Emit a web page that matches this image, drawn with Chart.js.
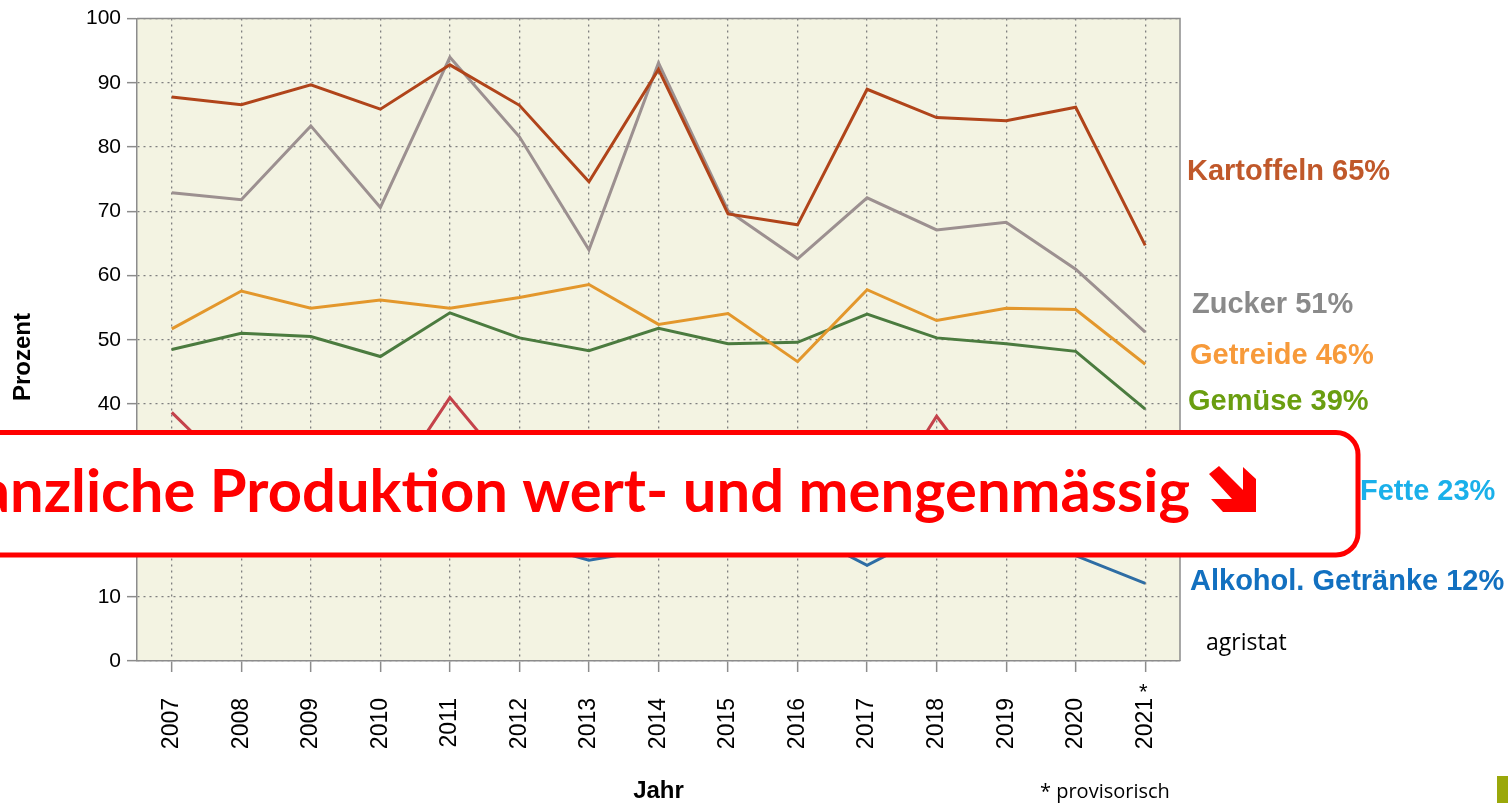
<!DOCTYPE html>
<html lang="de">
<head>
<meta charset="utf-8">
<title>Selbstversorgungsgrad</title>
<script src="https://cdn.jsdelivr.net/npm/chart.js@4.4.0/dist/chart.umd.min.js"></script>
<style>
  html, body { margin: 0; padding: 0; background: #fff; }
  #wrap { position: relative; width: 1510px; height: 803px; }
</style>
</head>
<body>
<div id="wrap"><canvas id="chart"></canvas></div>
<script>
// Selbstversorgungsgrad in Prozent, 2021 provisorisch
const years = ["2007", "2008", "2009", "2010", "2011", "2012", "2013", "2014",
  "2015", "2016", "2017", "2018", "2019", "2020", "2021"];

const kartoffeln = [87.8, 86.6, 89.7, 85.9, 92.8, 86.5, 74.6, 92.1, 69.6, 67.9, 89.0, 84.6, 84.1, 86.2, 64.7];
const zucker = [72.9, 71.8, 83.3, 70.6, 94.0, 81.6, 64.0, 93.1, 70.1, 62.6, 72.1, 67.1, 68.3, 61.0, 51.2];
const getreide = [51.7, 57.6, 54.9, 56.2, 54.9, 56.6, 58.6, 52.4, 54.1, 46.6, 57.8, 53.0, 54.9, 54.7, 46.2];
const gemuese = [48.5, 51.0, 50.5, 47.4, 54.2, 50.3, 48.3, 51.8, 49.4, 49.6, 54.0, 50.3, 49.4, 48.2, 39.2];
const obst = [38.7, 28.1, 30.0, 24.7, 41.0, 28.0, 25.0, 30.0, 27.0, 28.0, 21.0, 38.1, 23.7, 26.0, 29.0];
const fette = [25.0, 24.0, 25.0, 24.0, 25.0, 24.0, 24.0, 25.0, 24.0, 23.0, 24.0, 23.0, 24.0, 24.0, 23.0];
const alkohol = [19.0, 18.5, 18.0, 19.0, 18.5, 18.7, 15.7, 17.5, 19.0, 20.5, 14.9, 20.5, 18.5, 16.4, 12.1];

const endLabels = ["Kartoffeln 65%", "Zucker 51%", "Getreide 46%", "Gemüse 39%", "Fette 23%", "Alkohol. Getränke 12%"];
const banner = "Pflanzliche Produktion wert- und mengenmässig";

const sans = '"Liberation Sans", Arial, sans-serif';
const gray = "#8c8c8c";

const overlay = {
  id: "overlay",
  beforeDraw(chart) {
    const { ctx, chartArea: a } = chart;
    ctx.save();
    ctx.fillStyle = "#f3f3e2";
    ctx.fillRect(a.left, a.top, a.right - a.left, a.bottom - a.top);
    ctx.restore();
  },
  afterDraw(chart) {
    const { ctx, chartArea: a, scales } = chart;
    ctx.save();

    // frame top and right
    ctx.strokeStyle = gray;
    ctx.lineWidth = 1.5;
    ctx.beginPath();
    ctx.moveTo(a.left, a.top);
    ctx.lineTo(a.right, a.top);
    ctx.lineTo(a.right, a.bottom);
    ctx.stroke();

    // y axis title
    ctx.save();
    ctx.translate(23, 357);
    ctx.rotate(-Math.PI / 2);
    ctx.font = "bold 24px " + sans;
    ctx.fillStyle = "#000";
    ctx.textAlign = "center";
    ctx.textBaseline = "middle";
    ctx.fillText("Prozent", 0, 0);
    ctx.restore();

    // star for provisional year
    const xLast = scales.x.getPixelForValue(years.length - 1);
    ctx.font = "22px " + sans;
    ctx.fillStyle = "#000";
    ctx.textAlign = "center";
    ctx.textBaseline = "alphabetic";
    ctx.fillText("*", xLast - 2, 699);

    // end labels
    const colors = ["#c0582a", "#8a8a8a", "#f79a3a", "#6a9e10", "#1ab0ea", "#1270c0"];
    const pos = [[1187, 180], [1192, 313], [1190, 364], [1188, 410], [1360, 500], [1190, 590]];
    ctx.font = "bold 29px " + sans;
    ctx.textAlign = "left";
    endLabels.forEach((t, i) => {
      ctx.fillStyle = colors[i];
      ctx.fillText(t, pos[i][0], pos[i][1]);
    });

    ctx.font = '23px "Open Sans", sans-serif';
    ctx.fillStyle = "#000";
    ctx.fillText("agristat", 1206, 650);
    ctx.font = '20px "Open Sans", sans-serif';
    ctx.fillText("* provisorisch", 1040, 798);

    ctx.fillStyle = "#9aa80a";
    ctx.fillRect(1497, 776, 11, 27);

    // banner box
    const bx = -40, by = 432.5, bw = 1358 + 40, bh = 122.5, r = 22;
    ctx.beginPath();
    ctx.moveTo(bx, by);
    ctx.lineTo(bx + bw - r, by);
    ctx.arcTo(bx + bw, by, bx + bw, by + r, r);
    ctx.lineTo(bx + bw, by + bh - r);
    ctx.arcTo(bx + bw, by + bh, bx + bw - r, by + bh, r);
    ctx.lineTo(bx, by + bh);
    ctx.closePath();
    ctx.fillStyle = "#fff";
    ctx.fill();
    ctx.lineWidth = 5;
    ctx.strokeStyle = "#ff0000";
    ctx.stroke();

    ctx.font = "bold 100px Lato, sans-serif";
    const w = ctx.measureText("Produktion wert- und mengenmässig").width;
    const size = 100 * 980 / w;
    ctx.font = "bold " + size.toFixed(1) + "px Lato, sans-serif";
    ctx.fillStyle = "#ff0000";
    ctx.textAlign = "right";
    ctx.fillText(banner, 1190, 512);

    // arrow pointing down-right
    const pts = [[1256, 512], [1223, 512], [1211, 499], [1232, 499], [1209, 474],
      [1219, 466], [1243, 490], [1243, 467], [1256, 479]];
    ctx.beginPath();
    pts.forEach((p, i) => (i ? ctx.lineTo(p[0], p[1]) : ctx.moveTo(p[0], p[1])));
    ctx.closePath();
    ctx.fill();

    ctx.restore();
  },
};

function series(label, data, color) {
  return { label: label, data: data, borderColor: color, backgroundColor: color, fill: false };
}

const data = {
  labels: years,
  datasets: [
    series("Kartoffeln", kartoffeln, "#b0441a"),
    series("Zucker", zucker, "#9c9090"),
    series("Getreide", getreide, "#e3972c"),
    series("Gemüse", gemuese, "#4b7b3f"),
    series("Obst", obst, "#c4434b"),
    series("Fette", fette, "#1ab0ea"),
    series("Alkohol. Getränke", alkohol, "#2e6da4"),
  ],
};

const config = {
  type: "line",
  data: data,
  options: {
    responsive: true,
    maintainAspectRatio: false,
    animation: false,
    layout: { padding: { top: 17, right: 330, left: 0, bottom: 0 } },
    elements: {
      point: { radius: 0 },
      line: { borderWidth: 3, tension: 0 },
    },
    plugins: {
      legend: { display: false },
      tooltip: { enabled: false },
    },
    scales: {
      x: {
        offset: true,
        afterFit: (s) => { s.height = 142; },
        grid: { color: "#7f7f7f", lineWidth: 1.3, offset: false, tickLength: 11, tickColor: gray, tickWidth: 1.5 },
        border: { color: gray, width: 1.5, dash: [2, 4] },
        ticks: {
          autoSkip: false,
          minRotation: 90,
          maxRotation: 90,
          padding: 26,
          color: "#000",
          font: { family: "Liberation Sans", size: 23 },
        },
        title: {
          display: true,
          text: "Jahr",
          color: "#000",
          font: { family: "Liberation Sans", size: 24, weight: "bold", lineHeight: 1 },
          padding: { top: 0, bottom: 0 },
        },
      },
      y: {
        min: 0,
        max: 100,
        afterFit: (s) => { s.width = 137; },
        grid: { color: "#7f7f7f", lineWidth: 1.3, tickLength: 10, tickColor: gray, tickWidth: 1.5 },
        border: { color: gray, width: 1.5, dash: [2, 4] },
        ticks: {
          stepSize: 10,
          padding: 6,
          color: "#000",
          font: { family: "Liberation Sans", size: 21 },
        },
      },
    },
  },
  plugins: [overlay],
};

new Chart(document.getElementById("chart"), config);
</script>
</body>
</html>
